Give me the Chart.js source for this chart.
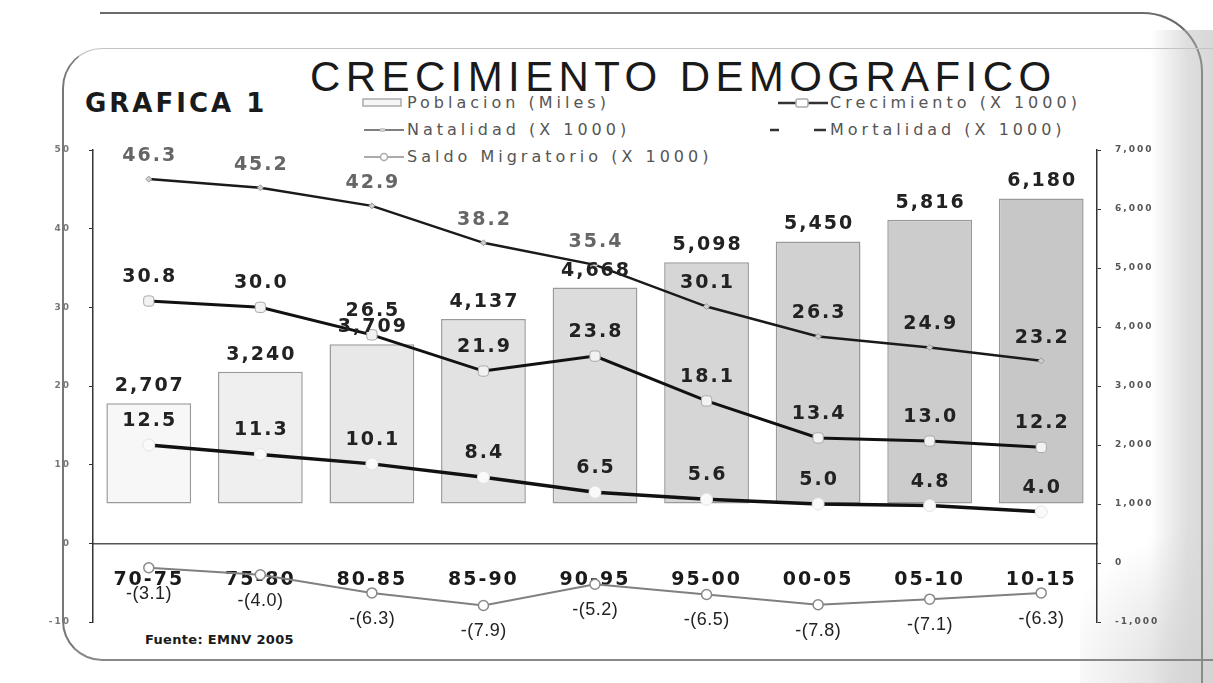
<!DOCTYPE html>
<html>
<head>
<meta charset="utf-8">
<script src="https://cdn.jsdelivr.net/npm/chart.js@4.4.1/dist/chart.umd.min.js"></script>
<style>
  html, body { margin: 0; padding: 0; background: #fff; }
  #wrap { position: relative; width: 1213px; height: 683px; overflow: hidden; background: #fff; }
  .abs { position: absolute; }
  #outer { left: 100px; top: 12px; width: 1101px; height: 720px; border-top: 2px solid #6a6a6a; border-right: 2px solid #8a8a8a; border-top-right-radius: 60px; }
  #inner { left: 62px; top: 48px; width: 1200px; height: 610px; border-left: 2px solid #777; border-top: 1px solid #c4c4c4; border-bottom: 2px solid #888; border-radius: 40px 0 0 40px; }
  #shade { left: 1150px; top: 30px; width: 63px; height: 653px; background: linear-gradient(to right, rgba(225,225,225,0), #dedede 60%, #d8d8d8); }
  #shade2 { left: 1080px; top: 520px; width: 133px; height: 163px; background: radial-gradient(circle at 100% 100%, #d4d4d4, rgba(230,230,230,0) 75%); }
  .t1 { left: 85px; top: 90px; font: bold 26px "DejaVu Sans"; line-height: 26px; letter-spacing: 3px; color: #1a1a1a; white-space: nowrap; }
  .t2 { left: 310px; top: 56px; font: 42px "Liberation Sans"; line-height: 42px; letter-spacing: 5.4px; color: #1a1a1a; white-space: nowrap; }
  .lg { font: 16px "DejaVu Sans"; line-height: 16px; letter-spacing: 4px; color: #555; white-space: nowrap; }
  .fuente { left: 145px; top: 633px; font: bold 13px "DejaVu Sans"; line-height: 14px; letter-spacing: 0.3px; color: #1a1a1a; white-space: nowrap; }
  canvas { position: absolute; left: 0; top: 0; }
</style>
</head>
<body>
<div id="wrap">
  <div id="shade" class="abs"></div>
  <div id="shade2" class="abs"></div>
  <div id="outer" class="abs"></div>
  <div id="inner" class="abs"></div>
  <div class="abs t1">GRAFICA 1</div>
  <div class="abs t2">CRECIMIENTO DEMOGRAFICO</div>

  <svg class="abs" style="left:362px;top:97px" width="42" height="12"><rect x="1" y="2" width="38" height="7" fill="#f6f6f6" stroke="#aaa" stroke-width="1.5"/></svg>
  <div class="abs lg" style="left:407px;top:95px">Poblacion (Miles)</div>
  <svg class="abs" style="left:364px;top:124px" width="42" height="12"><line x1="0" y1="6" x2="40" y2="6" stroke="#555" stroke-width="1.5"/><rect x="16" y="4" width="5" height="4" fill="#ccc"/></svg>
  <div class="abs lg" style="left:407px;top:122px">Natalidad (X 1000)</div>
  <svg class="abs" style="left:364px;top:151px" width="42" height="12"><line x1="0" y1="6" x2="40" y2="6" stroke="#aaa" stroke-width="2"/><circle cx="20" cy="6" r="3.5" fill="#fff" stroke="#aaa" stroke-width="1.5"/></svg>
  <div class="abs lg" style="left:407px;top:149px">Saldo Migratorio (X 1000)</div>

  <svg class="abs" style="left:776px;top:97px" width="54" height="12"><line x1="2" y1="6" x2="52" y2="6" stroke="#333" stroke-width="2.5"/><rect x="20" y="2" width="12" height="8" rx="2" fill="#fff" stroke="#aaa" stroke-width="1.5"/></svg>
  <div class="abs lg" style="left:830px;top:95px">Crecimiento (X 1000)</div>
  <svg class="abs" style="left:770px;top:124px" width="58" height="12"><line x1="0" y1="6" x2="9" y2="6" stroke="#333" stroke-width="2.5"/><line x1="44" y1="6" x2="56" y2="6" stroke="#333" stroke-width="2.5"/></svg>
  <div class="abs lg" style="left:830px;top:122px">Mortalidad (X 1000)</div>

  <div class="abs fuente">Fuente: EMNV 2005</div>
  <canvas id="Chart" width="1213" height="683"></canvas>
</div>
<script>
const categories = ["70-75", "75-80", "80-85", "85-90", "90-95", "95-00", "00-05", "05-10", "10-15"];
const poblacion = [2707, 3240, 3709, 4137, 4668, 5098, 5450, 5816, 6180];
const crecimiento = [30.8, 30.0, 26.5, 21.9, 23.8, 18.1, 13.4, 13.0, 12.2];
const natalidad = [46.3, 45.2, 42.9, 38.2, 35.4, 30.1, 26.3, 24.9, 23.2];
const mortalidad = [12.5, 11.3, 10.1, 8.4, 6.5, 5.6, 5.0, 4.8, 4.0];
const saldo = [-3.1, -4.0, -6.3, -7.9, -5.2, -6.5, -7.8, -7.1, -6.3];
const leftTicks = [-10, 0, 10, 20, 30, 40, 50];
const rightTicks = [-1000, 0, 1000, 2000, 3000, 4000, 5000, 6000, 7000];

const barColors = ["#f7f7f7", "#efefef", "#e8e8e8", "#e2e2e2", "#dcdcdc", "#d6d6d6", "#d1d1d1", "#cccccc", "#c7c7c7"];

const fmtThousands = v => v.toLocaleString("en-US");
const fmtOne = v => v.toFixed(1);
const fmtNeg = v => "-(" + Math.abs(v).toFixed(1) + ")";

// data labels drawn at each element's position
const valueLabels = {
    id: "valueLabels",
    afterDatasetsDraw(chart) {
        const ctx = chart.ctx;
        chart.data.datasets.forEach((ds, di) => {
            const s = ds.labelStyle;
            if (!s) return;
            chart.getDatasetMeta(di).data.forEach((el, i) => {
                ctx.save();
                ctx.font = s.font;
                ctx.fillStyle = typeof s.color === "function" ? s.color(i) : s.color;
                ctx.letterSpacing = s.spacing + "px";
                ctx.textAlign = "center";
                ctx.textBaseline = "middle";
                ctx.fillText(s.format(ds.data[i]), el.x + s.spacing / 2, el.y + s.dy);
                ctx.restore();
            });
        });
    }
};

const spacing = {
    id: "spacing",
    beforeDraw(chart) { chart.ctx.letterSpacing = "2px"; }
};

const data = {
    labels: categories,
    datasets: [
        {
            type: "line",
            label: "Natalidad (X 1000)",
            data: natalidad,
            yAxisID: "y",
            borderColor: "#1a1a1a",
            borderWidth: 2.5,
            pointStyle: "rectRot",
            pointRadius: 3,
            pointBackgroundColor: "#cfcfcf",
            pointBorderColor: "#999",
            pointBorderWidth: 1,
            order: 1,
            labelStyle: { font: "bold 19px 'DejaVu Sans'", color: i => (i < 5 ? "#666" : "#222"), spacing: 2, dy: -23, format: fmtOne }
        },
        {
            type: "line",
            label: "Crecimiento (X 1000)",
            data: crecimiento,
            yAxisID: "y",
            borderColor: "#111",
            borderWidth: 3,
            pointStyle: "rectRounded",
            pointRadius: 6,
            pointBackgroundColor: "#f2f2f2",
            pointBorderColor: "#aaa",
            pointBorderWidth: 1,
            order: 1,
            labelStyle: { font: "bold 19px 'DejaVu Sans'", color: "#222", spacing: 2, dy: -24, format: fmtOne }
        },
        {
            type: "line",
            label: "Mortalidad (X 1000)",
            data: mortalidad,
            yAxisID: "y",
            borderColor: "#111",
            borderWidth: 3.5,
            pointStyle: "circle",
            pointRadius: 6,
            pointBackgroundColor: "#fafafa",
            pointBorderColor: "#e4e4e4",
            pointBorderWidth: 1,
            order: 1,
            labelStyle: { font: "bold 19px 'DejaVu Sans'", color: "#222", spacing: 2, dy: -24, format: fmtOne }
        },
        {
            type: "line",
            label: "Saldo Migratorio (X 1000)",
            data: saldo,
            yAxisID: "y",
            borderColor: "#808080",
            borderWidth: 2,
            pointStyle: "circle",
            pointRadius: 5,
            pointBackgroundColor: "#fff",
            pointBorderColor: "#888",
            pointBorderWidth: 1.5,
            order: 1,
            labelStyle: { font: "18px 'Liberation Sans'", color: "#222", spacing: 0.5, dy: 26, format: fmtNeg }
        },
        {
            type: "bar",
            label: "Poblacion (Miles)",
            data: poblacion,
            yAxisID: "y1",
            base: 1000,
            backgroundColor: barColors,
            borderColor: "#9a9a9a",
            borderWidth: 1.5,
            borderSkipped: false,
            categoryPercentage: 1,
            barPercentage: 0.76,
            order: 5,
            labelStyle: { font: "bold 19px 'DejaVu Sans'", color: "#222", spacing: 2, dy: -17, format: fmtThousands }
        }
    ]
};

const config = {
    type: "bar",
    data: data,
    options: {
        responsive: false,
        animation: false,
        devicePixelRatio: 1,
        layout: { padding: { top: 150, bottom: 61, left: 40, right: 0 } },
        plugins: { legend: { display: false }, tooltip: { enabled: false } },
        elements: { line: { tension: 0 } },
        scales: {
            x: {
                position: { y: 0 },
                offset: true,
                grid: { display: false, drawTicks: false },
                border: { display: true, color: "#555", width: 1.5 },
                ticks: { color: "#1a1a1a", font: { family: "DejaVu Sans", size: 19, weight: "bold" }, padding: 25, maxRotation: 0, autoSkip: false }
            },
            y: {
                position: "left",
                min: -10,
                max: 50,
                afterFit(s) { s.width = 53; },
                afterBuildTicks(s) { s.ticks = leftTicks.map(v => ({ value: v })); },
                grid: { drawOnChartArea: false, drawTicks: true, tickLength: 4, color: "#333" },
                border: { display: true, color: "#333", width: 1.5 },
                ticks: { color: "#777", font: { family: "DejaVu Sans", size: 9, weight: "bold" }, padding: 18 }
            },
            y1: {
                position: "right",
                min: -1000,
                max: 7000,
                afterFit(s) { s.width = 116; },
                afterBuildTicks(s) { s.ticks = rightTicks.map(v => ({ value: v })); },
                grid: { drawOnChartArea: false, drawTicks: true, tickLength: 4, color: "#333" },
                border: { display: true, color: "#333", width: 1.5 },
                ticks: { color: "#555", font: { family: "DejaVu Sans", size: 9, weight: "bold" }, padding: 14, callback: v => fmtThousands(v) }
            }
        }
    },
    plugins: [spacing, valueLabels]
};

const myChart = new Chart(document.getElementById("Chart"), config);
</script>
</body>
</html>
